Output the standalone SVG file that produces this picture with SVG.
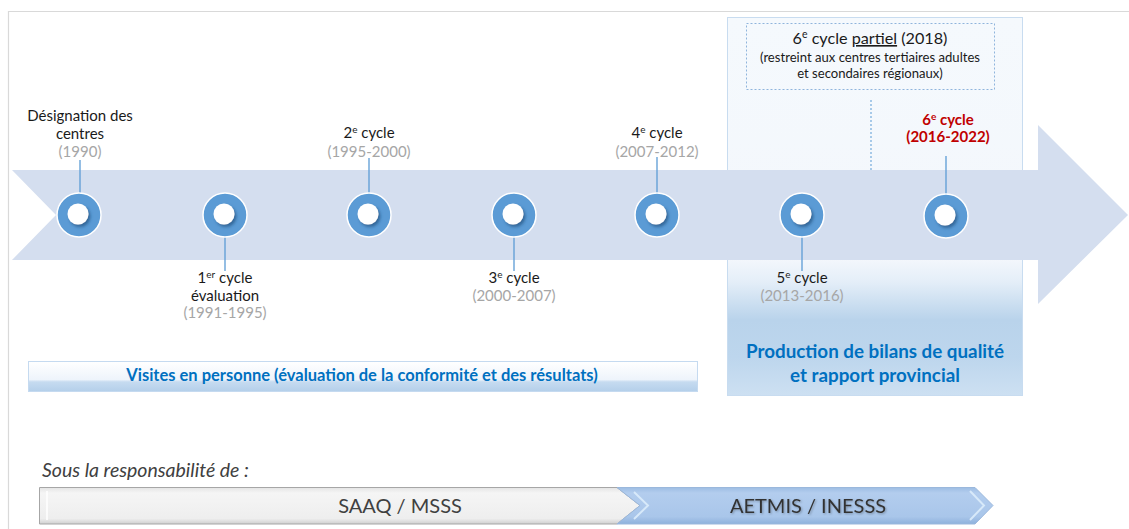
<svg xmlns="http://www.w3.org/2000/svg" width="1129" height="529" viewBox="0 0 1129 529">
<defs>
<style>
.lbl{font-family:Lato,"Noto Sans",sans-serif;font-size:15px;fill:#1a1a1a;text-anchor:middle}
.yr{font-family:Lato,"Noto Sans",sans-serif;font-size:15px;fill:#a6a6a6;text-anchor:middle}
.red{font-family:Lato,"Noto Sans",sans-serif;font-size:15px;font-weight:bold;fill:#c00000;text-anchor:middle}
.blue{font-family:Lato,"Noto Sans",sans-serif;font-weight:bold;fill:#0070c0;text-anchor:middle}
.conn{stroke:#5b9bd5;stroke-width:1.3;fill:none}
.ring{fill:#5b9bd5;stroke:#ffffff;stroke-width:1.5}
.hole{fill:#ffffff;filter:url(#sh)}
</style>
<filter id="sh" x="-50%" y="-50%" width="200%" height="200%">
<feDropShadow dx="2" dy="2.5" stdDeviation="1.5" flood-color="#1f4e79" flood-opacity="0.65"/>
</filter>
<filter id="tsh" x="-10%" y="-30%" width="120%" height="160%">
<feDropShadow dx="1" dy="1" stdDeviation="0.8" flood-color="#000000" flood-opacity="0.3"/>
</filter>
<linearGradient id="panelG" x1="0" y1="0" x2="0" y2="1">
<stop offset="0" stop-color="#f5f9fd"/>
<stop offset="0.64" stop-color="#f3f7fc"/>
<stop offset="0.7" stop-color="#e4eef8"/>
<stop offset="0.8" stop-color="#b9d3eb"/>
<stop offset="0.9" stop-color="#bdd6ed"/>
<stop offset="1" stop-color="#cde0f2"/>
</linearGradient>
<linearGradient id="visG" x1="0" y1="0" x2="0" y2="1">
<stop offset="0" stop-color="#ffffff"/>
<stop offset="0.6" stop-color="#eef4fb"/>
<stop offset="0.68" stop-color="#c6dbf0"/>
<stop offset="1" stop-color="#b4cfea"/>
</linearGradient>
<linearGradient id="grayG" x1="0" y1="0" x2="0" y2="1">
<stop offset="0" stop-color="#e4e4e4"/>
<stop offset="0.15" stop-color="#f5f5f5"/>
<stop offset="0.85" stop-color="#eeeeee"/>
<stop offset="1" stop-color="#cfcfcf"/>
</linearGradient>
<linearGradient id="blueG" x1="0" y1="0" x2="0" y2="1">
<stop offset="0" stop-color="#9dbde3"/>
<stop offset="0.15" stop-color="#b3cdee"/>
<stop offset="0.8" stop-color="#a9c6ea"/>
<stop offset="1" stop-color="#8eb1dc"/>
</linearGradient>
</defs>
<rect width="1129" height="529" fill="#ffffff"/>
<path d="M8.5 529 V11.5 H1129" fill="none" stroke="#d9d9d9" stroke-width="1.2"/>

<g id="panel-aetmis">
<rect x="727.5" y="17.5" width="295" height="378" fill="url(#panelG)" stroke="#c8dcf0" stroke-width="1"/>
</g>

<g id="band">
<polygon points="12,170 1038,170 1038,125 1128,215 1038,304 1038,260 12,260 56,215" fill="#d4deef"/>
</g>

<g id="connectors">
<line class="conn" x1="80" y1="160" x2="80" y2="193"/>
<line class="conn" x1="225" y1="237" x2="225" y2="271"/>
<line class="conn" x1="369" y1="158" x2="369" y2="193"/>
<line class="conn" x1="514" y1="237" x2="514" y2="271"/>
<line class="conn" x1="657" y1="157" x2="657" y2="193"/>
<line class="conn" x1="802" y1="237" x2="802" y2="271"/>
<line class="conn" x1="946" y1="156" x2="946" y2="194"/>
<line x1="871" y1="100" x2="871" y2="170" stroke="#5b9bd5" stroke-width="1" stroke-dasharray="2 2"/>
</g>

<g id="node-1990">
<circle class="ring" cx="79" cy="215" r="22"/>
<circle class="hole" cx="78" cy="214" r="10.5"/>
<text class="lbl" x="80" y="121">Désignation des</text>
<text class="lbl" x="80" y="139">centres</text>
<text class="yr" x="80" y="157">(1990)</text>
</g>

<g id="node-cycle1">
<circle class="ring" cx="225" cy="215" r="22"/>
<circle class="hole" cx="224" cy="214" r="10.5"/>
<text class="lbl" x="225" y="283">1<tspan font-size="10" dy="-5">er</tspan><tspan dy="5"> cycle</tspan></text>
<text class="lbl" x="225" y="301">évaluation</text>
<text class="yr" x="225" y="318">(1991-1995)</text>
</g>

<g id="node-cycle2">
<circle class="ring" cx="369" cy="215" r="22"/>
<circle class="hole" cx="368" cy="214" r="10.5"/>
<text class="lbl" x="369" y="138">2<tspan font-size="10" dy="-5">e</tspan><tspan dy="5"> cycle</tspan></text>
<text class="yr" x="369" y="157">(1995-2000)</text>
</g>

<g id="node-cycle3">
<circle class="ring" cx="514" cy="215" r="22"/>
<circle class="hole" cx="513" cy="214" r="10.5"/>
<text class="lbl" x="514" y="283">3<tspan font-size="10" dy="-5">e</tspan><tspan dy="5"> cycle</tspan></text>
<text class="yr" x="514" y="301">(2000-2007)</text>
</g>

<g id="node-cycle4">
<circle class="ring" cx="657" cy="215" r="22"/>
<circle class="hole" cx="656" cy="214" r="10.5"/>
<text class="lbl" x="657" y="138">4<tspan font-size="10" dy="-5">e</tspan><tspan dy="5"> cycle</tspan></text>
<text class="yr" x="657" y="157">(2007-2012)</text>
</g>

<g id="node-cycle5">
<circle class="ring" cx="802" cy="215" r="22"/>
<circle class="hole" cx="801" cy="214" r="10.5"/>
<text class="lbl" x="802" y="283">5<tspan font-size="10" dy="-5">e</tspan><tspan dy="5"> cycle</tspan></text>
<text class="yr" x="802" y="301">(2013-2016)</text>
</g>

<g id="node-cycle6">
<circle class="ring" cx="946" cy="216" r="22"/>
<circle class="hole" cx="945" cy="215" r="10.5"/>
<text class="red" x="948" y="125">6<tspan font-size="10" dy="-5">e</tspan><tspan dy="5"> cycle</tspan></text>
<text class="red" x="948" y="142">(2016-2022)</text>
</g>

<g id="node-cycle6-partiel">
<rect x="746.5" y="23.5" width="248" height="66" fill="none" stroke="#8fb4dc" stroke-width="1" stroke-dasharray="2 2"/>
<text class="lbl" x="870" y="44" style="font-size:16.2px">6<tspan style="font-size:10.5px" dy="-6">e</tspan><tspan dy="6"> cycle </tspan><tspan text-decoration="underline">partiel</tspan> (2018)</text>
<text class="lbl" x="870" y="62" style="font-size:13.1px">(restreint aux centres tertiaires adultes</text>
<text class="lbl" x="870" y="78" style="font-size:13.1px">et secondaires régionaux)</text>
</g>

<g id="node-visites">
<rect x="28.5" y="361.5" width="669" height="30" fill="url(#visG)" stroke="#c5daf0" stroke-width="1"/>
<text class="blue" x="362" y="381" font-size="16.5">Visites en personne (évaluation de la conformité et des résultats)</text>
</g>

<g id="node-production">
<text class="blue" x="875" y="358" font-size="18.8">Production de bilans de qualité</text>
<text class="blue" x="875" y="382" font-size="18.8">et rapport provincial</text>
</g>

<g id="responsabilite">
<text x="42" y="477" font-family="Lato,'Noto Sans',sans-serif" font-size="19.5" font-style="italic" fill="#404040">Sous la responsabilité de :</text>
</g>

<g id="node-saaq">
<polygon points="39.5,487.5 617,487.5 640,505.5 617,524 39.5,524" fill="url(#grayG)" stroke="#a6a6a6" stroke-width="1"/>
<line x1="47" y1="491" x2="47" y2="520" stroke="#ffffff" stroke-width="2" opacity="0.8"/>
<text x="400" y="513" font-family="Lato,'Noto Sans',sans-serif" font-size="20" fill="#404040" text-anchor="middle">SAAQ / MSSS</text>
</g>

<g id="node-aetmis">
<polygon points="617,487.5 975,487.5 993,505.5 975,524 617,524 640,505.5" fill="url(#blueG)" stroke="#9bb8dc" stroke-width="1"/>
<polyline points="634,492 648,505.5 634,519" fill="none" stroke="#dcecfb" stroke-width="2" opacity="0.9"/>
<polyline points="970,491 984,505.5 970,520" fill="none" stroke="#dcecfb" stroke-width="2" opacity="0.9"/>
<text x="808" y="513" font-family="Lato,'Noto Sans',sans-serif" font-size="20" fill="#333333" text-anchor="middle" filter="url(#tsh)">AETMIS / INESSS</text>
</g>
</svg>
